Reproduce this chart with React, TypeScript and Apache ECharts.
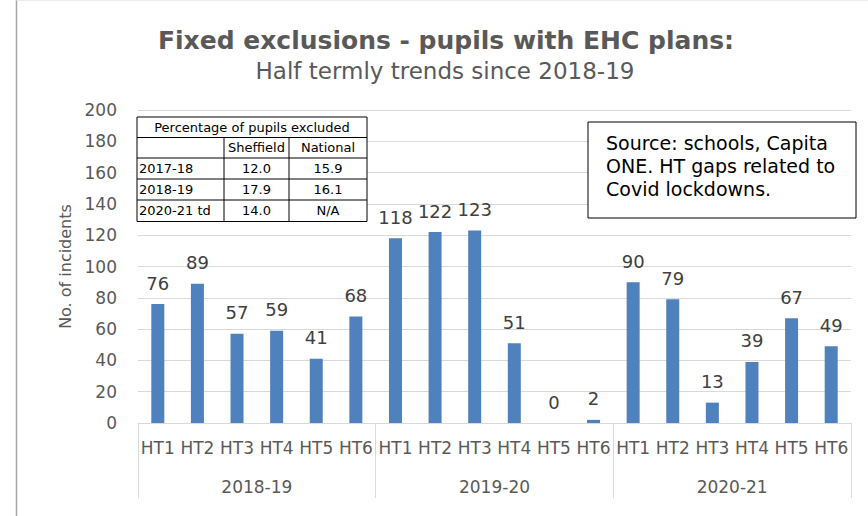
import React, { useEffect, useRef } from "react";
import * as echarts from "echarts";

const halfTerms = [
  "HT1", "HT2", "HT3", "HT4", "HT5", "HT6",
  "HT1", "HT2", "HT3", "HT4", "HT5", "HT6",
  "HT1", "HT2", "HT3", "HT4", "HT5", "HT6",
];
const years = ["2018-19", "2019-20", "2020-21"];
const incidents = [76, 89, 57, 59, 41, 68, 118, 122, 123, 51, 0, 2, 90, 79, 13, 39, 67, 49];

const yMin = 0;
const yMax = 200;
const yInterval = 20;

const titleText = "Fixed exclusions - pupils with EHC plans:";
const subtitleText = "Half termly trends since 2018-19";
const yAxisName = "No. of incidents";

const tableHeader = "Percentage of pupils excluded";
const tableColumns = ["Sheffield", "National"];
const tableRowLabels = ["2017-18", "2018-19", "2020-21 td"];
const tableSheffield = ["12.0", "17.9", "14.0"];
const tableNational = ["15.9", "16.1", "N/A"];

const sourceLines = ["Source: schools, Capita", "ONE. HT gaps related to", "Covid lockdowns."];

const FONT = '"DejaVu Sans"';

function buildTable(): any[] {
  const colX = [137, 224, 289, 367];
  const rowY = [117, 137.5, 158, 179, 200, 221.5];
  const els: any[] = [];
  const z = 100;
  els.push({
    type: "rect",
    z,
    shape: { x: colX[0], y: rowY[0], width: colX[3] - colX[0], height: rowY[5] - rowY[0] },
    style: { fill: "#ffffff", stroke: "#000000", lineWidth: 1 },
  });
  for (let r = 1; r < 5; r++) {
    els.push({
      type: "line",
      z,
      shape: { x1: colX[0], y1: rowY[r], x2: colX[3], y2: rowY[r] },
      style: { stroke: "#000000", lineWidth: 1 },
    });
  }
  for (let c = 1; c < 3; c++) {
    els.push({
      type: "line",
      z,
      shape: { x1: colX[c], y1: rowY[1], x2: colX[c], y2: rowY[5] },
      style: { stroke: "#000000", lineWidth: 1 },
    });
  }
  const txt = (t: string, x: number, y: number, align: string) => ({
    type: "text",
    z: z + 1,
    x,
    y,
    style: {
      text: t,
      fill: "#000000",
      font: `13px ${FONT}`,
      align,
      verticalAlign: "middle",
    },
  });
  els.push(txt(tableHeader, (colX[0] + colX[3]) / 2, (rowY[0] + rowY[1]) / 2, "center"));
  tableColumns.forEach((c, i) => {
    els.push(txt(c, (colX[i + 1] + colX[i + 2]) / 2, (rowY[1] + rowY[2]) / 2, "center"));
  });
  tableRowLabels.forEach((lab, i) => {
    const cy = (rowY[i + 2] + rowY[i + 3]) / 2;
    els.push(txt(lab, colX[0] + 2, cy, "left"));
    els.push(txt(tableSheffield[i], (colX[1] + colX[2]) / 2, cy, "center"));
    els.push(txt(tableNational[i], (colX[2] + colX[3]) / 2, cy, "center"));
  });
  return els;
}

function buildSource(): any[] {
  const els: any[] = [];
  els.push({
    type: "rect",
    z: 100,
    shape: { x: 588, y: 122, width: 268, height: 96 },
    style: { fill: "#ffffff", stroke: "#000000", lineWidth: 1 },
  });
  sourceLines.forEach((l, i) => {
    els.push({
      type: "text",
      z: 101,
      x: 606,
      y: 143 + i * 23,
      style: {
        text: l,
        fill: "#000000",
        font: `19px ${FONT}`,
        align: "left",
        verticalAlign: "middle",
      },
    });
  });
  return els;
}

export default function App() {
  const ref = useRef<HTMLDivElement>(null);
  useEffect(() => {
    if (!ref.current) return;
    const chart = echarts.init(ref.current, undefined, { renderer: "svg" });
    const option: any = {
      animation: false,
      backgroundColor: "#ffffff",
      grid: { left: 138, right: 17, top: 110, bottom: 93, containLabel: false },
      xAxis: [
        {
          type: "category",
          data: halfTerms,
          position: "bottom",
          axisLine: { show: true, lineStyle: { color: "#d9d9d9", width: 1 } },
          axisTick: { show: false },
          axisLabel: {
            interval: 0,
            margin: 16,
            color: "#595959",
            fontSize: 17,
            fontFamily: "DejaVu Sans",
          },
        },
        {
          type: "category",
          data: years,
          position: "bottom",
          offset: 0,
          axisLine: { show: false },
          axisTick: { show: true, length: 75, lineStyle: { color: "#d9d9d9", width: 1 } },
          axisLabel: {
            interval: 0,
            margin: 55,
            color: "#595959",
            fontSize: 17,
            fontFamily: "DejaVu Sans",
          },
          splitLine: { show: false },
        },
      ],
      yAxis: {
        type: "value",
        min: yMin,
        max: yMax,
        interval: yInterval,
        name: yAxisName,
        nameLocation: "middle",
        nameGap: 65,
        nameRotate: 90,
        nameTextStyle: { color: "#595959", fontSize: 16, fontFamily: "DejaVu Sans" },
        axisLine: { show: false },
        axisTick: { show: false },
        axisLabel: { color: "#595959", fontSize: 17, fontFamily: "DejaVu Sans", margin: 21 },
        splitLine: { show: true, lineStyle: { color: "#d9d9d9", width: 1 } },
      },
      series: [
        {
          type: "bar",
          xAxisIndex: 0,
          data: incidents,
          barWidth: 13,
          itemStyle: { color: "#4f81bd" },
          label: {
            show: true,
            position: "top",
            distance: 12,
            color: "#404040",
            fontSize: 18,
            fontFamily: "DejaVu Sans",
          },
        },
      ],
      graphic: [
        {
          type: "line",
          z: 100,
          shape: { x1: 16.5, y1: 0, x2: 16.5, y2: 516 },
          style: { stroke: "#a6a6a6", lineWidth: 1.5 },
        },
        {
          type: "line",
          z: 100,
          shape: { x1: 16.5, y1: 0.5, x2: 868, y2: 0.5 },
          style: { stroke: "#ececec", lineWidth: 1 },
        },
        {
          type: "text",
          z: 100,
          x: 446,
          y: 40,
          style: {
            text: titleText,
            fill: "#595959",
            font: `bold 25px ${FONT}`,
            align: "center",
            verticalAlign: "middle",
          },
        },
        {
          type: "text",
          z: 100,
          x: 445,
          y: 71,
          style: {
            text: subtitleText,
            fill: "#595959",
            font: `23px ${FONT}`,
            align: "center",
            verticalAlign: "middle",
          },
        },
        ...buildTable(),
        ...buildSource(),
      ],
    };
    chart.setOption(option);
    return () => chart.dispose();
  }, []);
  return (
    <div
      ref={ref}
      style={{ position: "absolute", left: 0, top: 0, width: 868, height: 516 }}
    />
  );
}
